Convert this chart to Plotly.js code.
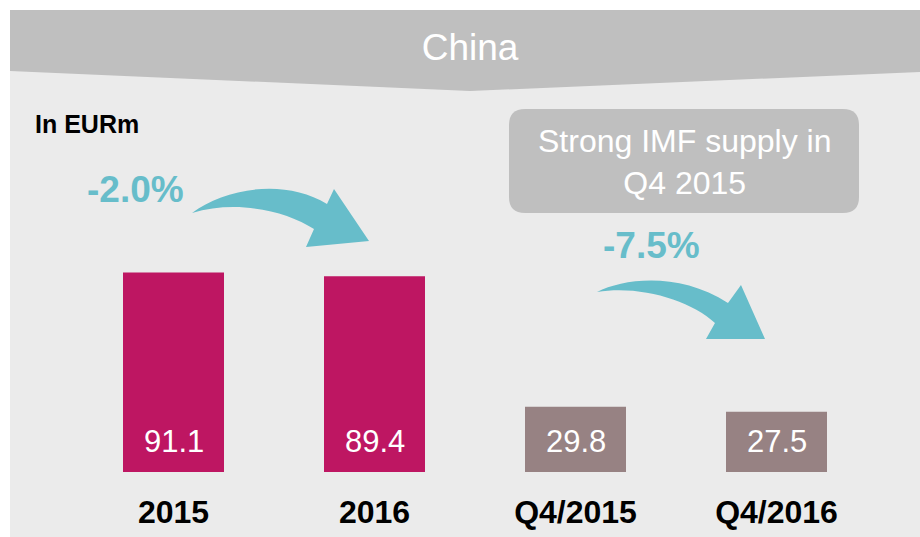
<!DOCTYPE html>
<html>
<head>
<meta charset="utf-8">
<script src="https://cdn.plot.ly/plotly-3.0.1.min.js"></script>
<style>html,body{margin:0;padding:0;background:#fff;}#chart{width:920px;height:537px;}</style>
</head>
<body>
<div id="chart"></div>
<script>
// ---- data ----
var categories = ['2015', '2016', 'Q4/2015', 'Q4/2016'];
var values = [91.1, 89.4, 29.8, 27.5];
var barColors = ['#be1662', '#be1662', '#978283', '#978283'];
var changeLabels = ['-2.0%', '-7.5%'];
var unitLabel = 'In EURm';
var titleText = 'China';
var calloutText = 'Strong IMF supply in<br>Q4 2015';

// ---- geometry helpers (pixel -> paper) ----
var W = 920, H = 537, MB = 65, PH = H - MB;
function px(x) { return x / W; }
function py(y) { return (PH - y) / PH; }
function pt(x, y) { return px(x).toFixed(5) + ',' + py(y).toFixed(5); }

var FONT = 'Liberation Sans, Arial, sans-serif';
var TEAL = '#67bdca';

function roundRect(x0, y0, x1, y1, r) {
  return 'M' + pt(x0 + r, y0) + ' L' + pt(x1 - r, y0) +
    ' Q' + pt(x1, y0) + ' ' + pt(x1, y0 + r) +
    ' L' + pt(x1, y1 - r) + ' Q' + pt(x1, y1) + ' ' + pt(x1 - r, y1) +
    ' L' + pt(x0 + r, y1) + ' Q' + pt(x0, y1) + ' ' + pt(x0, y1 - r) +
    ' L' + pt(x0, y0 + r) + ' Q' + pt(x0, y0) + ' ' + pt(x0 + r, y0) + ' Z';
}

var arrow1 = 'M' + pt(192, 213) +
  ' C' + pt(225, 188) + ' ' + pt(285, 178) + ' ' + pt(327, 204) +
  ' L' + pt(334, 189) + ' L' + pt(369, 241) + ' L' + pt(306, 247) + ' L' + pt(314, 229) +
  ' C' + pt(285, 210) + ' ' + pt(235, 200) + ' ' + pt(192, 213) + ' Z';

var arrow2 = 'M' + pt(597, 292) +
  ' C' + pt(625, 278) + ' ' + pt(680, 272) + ' ' + pt(728, 303) +
  ' L' + pt(741, 285) + ' L' + pt(765, 339) + ' L' + pt(706, 339) + ' L' + pt(715, 323) +
  ' C' + pt(690, 300) + ' ' + pt(640, 285) + ' ' + pt(597, 292) + ' Z';

var shapes = [
  {type: 'rect', xref: 'paper', yref: 'paper', x0: px(10), x1: px(920), y0: py(10), y1: py(537),
   fillcolor: '#ebebeb', line: {width: 0}, layer: 'below'},
  {type: 'path', xref: 'paper', yref: 'paper',
   path: 'M' + pt(10, 10) + ' L' + pt(920, 10) + ' L' + pt(920, 72) + ' L' + pt(470, 91) + ' L' + pt(10, 71) + ' Z',
   fillcolor: '#bfbfbf', line: {width: 0}, layer: 'below'},
  {type: 'path', xref: 'paper', yref: 'paper', path: roundRect(509, 109, 859, 213, 16),
   fillcolor: '#bfbfbf', line: {width: 0}, layer: 'below'},
  {type: 'path', xref: 'paper', yref: 'paper', path: arrow1, fillcolor: TEAL, line: {width: 0}, layer: 'below'},
  {type: 'path', xref: 'paper', yref: 'paper', path: arrow2, fillcolor: TEAL, line: {width: 0}, layer: 'below'}
];

var annotations = [];
categories.forEach(function (c, i) {
  annotations.push({x: i, y: 0, xref: 'x', yref: 'y', text: values[i].toFixed(1), showarrow: false,
    yanchor: 'middle', yshift: 31, font: {family: FONT, size: 31, color: '#ffffff'}});
});
annotations.push({xref: 'paper', yref: 'paper', x: px(33), y: py(124), xanchor: 'left', yanchor: 'middle',
  text: '<b>' + unitLabel + '</b>', showarrow: false, font: {family: FONT, size: 25, color: '#000000'}});
annotations.push({xref: 'paper', yref: 'paper', x: px(135), y: py(189), xanchor: 'center', yanchor: 'middle',
  text: '<b>' + changeLabels[0] + '</b>', showarrow: false, font: {family: FONT, size: 37, color: TEAL}});
annotations.push({xref: 'paper', yref: 'paper', x: px(651.5), y: py(245.5), xanchor: 'center', yanchor: 'middle',
  text: '<b>' + changeLabels[1] + '</b>', showarrow: false, font: {family: FONT, size: 37, color: TEAL}});
annotations.push({xref: 'paper', yref: 'paper', x: px(684), y: py(162), xanchor: 'center', yanchor: 'middle',
  text: calloutText, showarrow: false, font: {family: FONT, size: 32, color: '#ffffff'}});

var trace = {
  type: 'bar', x: categories, y: values, width: 0.5025,
  marker: {color: barColors, line: {width: 0}},
  hoverinfo: 'x+y'
};

var layout = {
  width: W, height: H,
  margin: {l: 0, r: 0, t: 0, b: MB, pad: 0},
  paper_bgcolor: '#ffffff', plot_bgcolor: 'rgba(0,0,0,0)',
  showlegend: false,
  title: {text: titleText, font: {family: FONT, size: 37, color: '#ffffff'},
    xref: 'paper', x: px(470), xanchor: 'center', yref: 'container', y: 1 - 47 / H, yanchor: 'middle'},
  xaxis: {type: 'category', range: [-173.5 / 201, -173.5 / 201 + W / 201], showgrid: false, zeroline: false,
    showline: false, ticks: '', ticklabelstandoff: 18,
    tickfont: {family: FONT, size: 32, color: '#000000', weight: 'bold'}, fixedrange: true},
  yaxis: {range: [0, PH / 2.19], visible: false, showgrid: false, zeroline: false, fixedrange: true},
  shapes: shapes,
  annotations: annotations
};

Plotly.newPlot('chart', [trace], layout, {displayModeBar: false, staticPlot: true});
</script>
</body>
</html>
